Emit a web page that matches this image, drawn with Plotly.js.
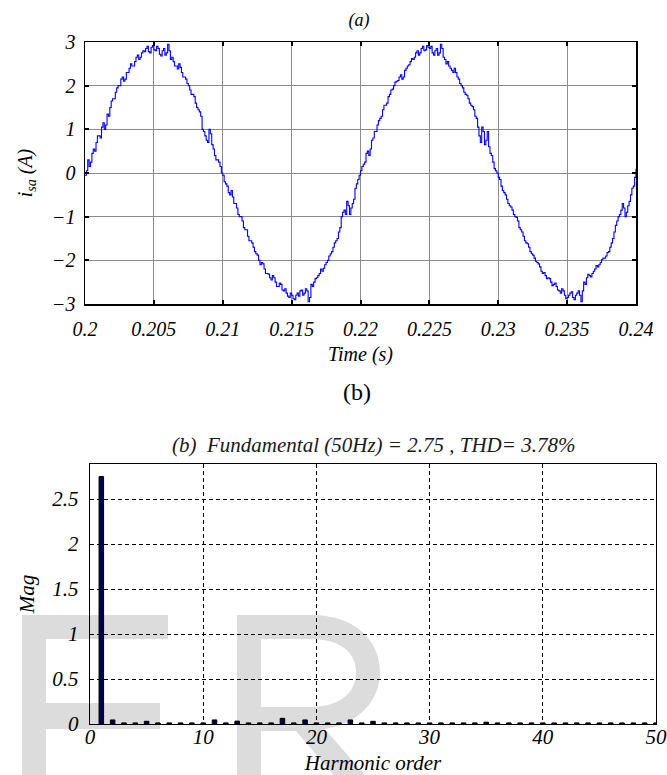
<!DOCTYPE html>
<html>
<head>
<meta charset="utf-8">
<script src="https://cdn.plot.ly/plotly-3.0.1.min.js"></script>
<style>
  html, body { margin: 0; padding: 0; background: #ffffff; }
  #chart { width: 667px; height: 775px; }
</style>
</head>
<body>
<div id="chart"></div>
<script>
// ---------- data ----------
const tStart = 0.2;          // s, first sample
const tStep = 0.0001;        // s, sample spacing
const isa = [
  -0.05, 0.05, 0.30, 0.15, 0.25, 0.45, 0.55, 0.50, 0.70, 0.85,
   0.85, 0.80, 1.05, 1.15, 1.00, 1.10, 1.35, 1.30, 1.50, 1.65,
   1.70, 1.70, 1.85, 1.95, 2.00, 2.00, 2.15, 2.20, 2.10, 2.15,
   2.30, 2.30, 2.40, 2.50, 2.45, 2.45, 2.55, 2.65, 2.70, 2.60,
   2.65, 2.75, 2.80, 2.78, 2.85, 2.90, 2.78, 2.75, 2.88, 2.92,
   2.82, 2.80, 2.90, 2.85, 2.72, 2.68, 2.80, 2.85, 2.70, 2.75,
   2.95, 2.80, 2.60, 2.65, 2.55, 2.45, 2.45, 2.38, 2.50, 2.42,
   2.30, 2.20, 2.20, 2.15, 2.05, 2.00, 1.90, 1.80, 1.80, 1.75,
   1.60, 1.50, 1.45, 1.40, 1.30, 1.00, 0.95, 0.85, 0.75, 0.70,
   1.00, 0.90, 0.65, 0.55, 0.40, 0.30, 0.30, 0.25, 0.15, 0.00,
  -0.05,-0.20,-0.25,-0.30,-0.45,-0.50,-0.40,-0.55,-0.70,-0.70,
  -0.80,-0.95,-1.00,-1.00,-1.10,-1.25,-1.30,-1.30,-1.45,-1.55,
  -1.55,-1.60,-1.70,-1.80,-1.85,-1.88,-2.00,-2.10,-2.05,-2.08,
  -2.20,-2.30,-2.30,-2.32,-2.40,-2.45,-2.35,-2.40,-2.50,-2.60,
  -2.60,-2.52,-2.55,-2.68,-2.70,-2.65,-2.75,-2.82,-2.85,-2.75,
  -2.80,-2.88,-2.90,-2.80,-2.75,-2.82,-2.70,-2.68,-2.80,-2.75,
  -2.65,-2.70,-2.95,-2.85,-2.55,-2.60,-2.50,-2.42,-2.40,-2.35,
  -2.30,-2.20,-2.25,-2.18,-2.10,-2.05,-2.00,-1.90,-1.85,-1.80,
  -1.70,-1.60,-1.55,-1.50,-1.35,-1.25,-1.00,-0.90,-0.85,-0.95,
  -0.65,-0.75,-0.95,-0.80,-0.70,-0.60,-0.35,-0.25,-0.15,-0.05,
   0.05, 0.15, 0.20, 0.25, 0.45, 0.50, 0.40, 0.55, 0.75, 0.80,
   0.95, 0.95, 1.10, 1.20, 1.25, 1.30, 1.45, 1.55, 1.55, 1.60,
   1.75, 1.80, 1.90, 1.92, 2.00, 2.08, 2.10, 2.12, 2.20, 2.25,
   2.15, 2.20, 2.35, 2.40, 2.45, 2.48, 2.55, 2.62, 2.60, 2.65,
   2.75, 2.80, 2.70, 2.75, 2.85, 2.90, 2.80, 2.82, 2.92, 2.88,
   2.85, 2.90, 2.75, 2.70, 2.80, 2.85, 2.70, 2.75, 2.95, 2.85,
   2.65, 2.60, 2.50, 2.55, 2.45, 2.40, 2.35, 2.30, 2.40, 2.30,
   2.20, 2.15, 2.05, 2.00, 1.95, 1.85, 1.80, 1.78, 1.70, 1.60,
   1.55, 1.52, 1.45, 1.30, 1.25, 1.05, 0.85, 0.70, 1.05, 0.95,
   0.65, 0.75, 0.95, 0.60, 0.45, 0.40, 0.25, 0.10, 0.05, 0.00,
  -0.10,-0.15,-0.30,-0.40,-0.45,-0.50,-0.60,-0.70,-0.75,-0.78,
  -0.85,-0.95,-1.00,-1.02,-1.10,-1.25,-1.30,-1.35,-1.45,-1.55,
  -1.60,-1.62,-1.70,-1.80,-1.85,-1.88,-1.95,-2.02,-2.05,-2.08,
  -2.15,-2.25,-2.30,-2.28,-2.35,-2.42,-2.40,-2.42,-2.50,-2.58,
  -2.55,-2.52,-2.60,-2.68,-2.70,-2.75,-2.65,-2.70,-2.80,-2.88,
  -2.85,-2.80,-2.75,-2.72,-2.85,-2.90,-2.80,-2.75,-2.70,-2.80,
  -2.95,-2.70,-2.50,-2.55,-2.40,-2.32,-2.35,-2.38,-2.30,-2.25,
  -2.20,-2.12,-2.15,-2.10,-2.05,-1.98,-1.95,-1.95,-1.90,-1.82,
  -1.80,-1.70,-1.60,-1.50,-1.35,-1.20,-1.10,-1.00,-0.95,-0.85,
  -0.70,-0.80,-1.00,-0.90,-0.75,-0.65,-0.50,-0.35,-0.30,-0.10,
   0.10
];
const timeTickVals = [0.2, 0.205, 0.21, 0.215, 0.22, 0.225, 0.23, 0.235, 0.24];
const timeTickText = ['0.2', '0.205', '0.21', '0.215', '0.22', '0.225', '0.23', '0.235', '0.24'];
const isaTickVals = [-3, -2, -1, 0, 1, 2, 3];

const harmonicOrder = [
   1,  2,  3,  4,  5,  6,  7,  8,  9, 10,
  11, 12, 13, 14, 15, 16, 17, 18, 19, 20,
  21, 22, 23, 24, 25, 26, 27, 28, 29, 30,
  31, 32, 33, 34, 35, 36, 37, 38, 39, 40,
  41, 42, 43, 44, 45, 46, 47, 48, 49, 50
];
const harmonicMag = [
  2.75, 0.045, 0.012, 0.012, 0.030, 0.012, 0.012, 0.012, 0.012, 0.012,
  0.045, 0.012, 0.032, 0.012, 0.012, 0.012, 0.063, 0.012, 0.045, 0.012,
  0.012, 0.012, 0.045, 0.012, 0.030, 0.012, 0.012, 0.012, 0.012, 0.012,
  0.012, 0.012, 0.012, 0.012, 0.020, 0.012, 0.012, 0.012, 0.012, 0.012,
  0.012, 0.012, 0.012, 0.012, 0.012, 0.012, 0.012, 0.012, 0.012, 0.012
];
const magTickVals = [0, 0.5, 1, 1.5, 2, 2.5];
const magTickText = ['0', '0.5', '1', '1.5', '2', '2.5'];
const harmTickVals = [0, 10, 20, 30, 40, 50];

// ---------- helpers ----------
const W = 667, H = 775;
const time = isa.map((_, i) => +(tStart + i * tStep).toFixed(4));
function pxPath(cmds) {
  return cmds.map(c => {
    if (c[0] === 'Z') return 'Z';
    const pts = [];
    for (let i = 1; i < c.length; i += 2) {
      pts.push((c[i] / W).toFixed(5) + ',' + (1 - c[i + 1] / H).toFixed(5));
    }
    return c[0] + pts.join(' ');
  }).join(' ');
}
const serif = '"Liberation Serif", "Times New Roman", serif';
const italicFont = (size, color) => ({ family: serif, size: size, style: 'italic', color: color || '#000000' });

// ---------- traces ----------
const traces = [
  {
    type: 'scatter', mode: 'lines', x: time, y: isa,
    line: { color: '#0000ff', width: 1.1, shape: 'hv' },
    xaxis: 'x', yaxis: 'y', hoverinfo: 'x+y', showlegend: false
  },
  {
    type: 'bar', x: harmonicOrder, y: harmonicMag, width: 0.4,
    marker: { color: '#000050', line: { color: '#000000', width: 1 } },
    xaxis: 'x2', yaxis: 'y2', showlegend: false
  }
];

// ---------- watermark shapes (pixel outlines converted to paper units) ----------
const letterF = pxPath([
  ['M', 22, 615], ['L', 168, 615], ['L', 168, 639], ['L', 46, 639], ['L', 46, 703],
  ['L', 160, 703], ['L', 160, 729], ['L', 46, 729], ['L', 46, 795], ['L', 22, 795], ['Z']
]);
const letterR = pxPath([
  ['M', 237, 615], ['L', 312, 615], ['C', 354, 615, 380, 640, 380, 672],
  ['C', 380, 702, 357, 724, 325, 729], ['L', 382, 795], ['L', 351, 795], ['L', 296, 731],
  ['L', 261, 731], ['L', 261, 795], ['L', 237, 795], ['Z'],
  ['M', 261, 639], ['L', 310, 639], ['C', 340, 639, 356, 652, 356, 672],
  ['C', 356, 693, 340, 707, 310, 707], ['L', 261, 707], ['Z']
]);

const layout = {
  width: W, height: H,
  margin: { l: 0, r: 0, t: 0, b: 0 },
  paper_bgcolor: '#ffffff', plot_bgcolor: 'rgba(0,0,0,0)',
  showlegend: false,
  title: {
    text: '(a)', x: 359 / W, xanchor: 'center', y: 1 - 20 / H, yanchor: 'middle',
    font: italicFont(18)
  },
  xaxis: {
    domain: [85 / W, 636 / W], anchor: 'y', range: [0.2, 0.24],
    tickmode: 'array', tickvals: timeTickVals, ticktext: timeTickText,
    showgrid: true, gridcolor: '#8c8c8c', gridwidth: 1, zeroline: false,
    showline: true, linecolor: '#000000', linewidth: 1.5, mirror: 'ticks',
    ticks: 'inside', ticklen: 4, tickwidth: 2, tickcolor: '#000000',
    ticklabelstandoff: 6, ticklabeloverflow: 'allow',
    tickfont: italicFont(20),
    title: { text: 'Time (s)', standoff: 8, font: italicFont(20) },
    fixedrange: true
  },
  yaxis: {
    domain: [1 - 304 / H, 1 - 42 / H], anchor: 'x', range: [-3, 3],
    tickmode: 'array', tickvals: isaTickVals,
    showgrid: true, gridcolor: '#8c8c8c', gridwidth: 1, zeroline: false,
    showline: true, linecolor: '#000000', linewidth: 1.5, mirror: 'ticks',
    ticks: 'inside', ticklen: 4, tickwidth: 2, tickcolor: '#000000',
    ticklabelstandoff: 4, ticklabeloverflow: 'allow',
    tickfont: italicFont(20),
    title: { text: 'i<sub>sa</sub> (A)', standoff: 14, font: italicFont(20) },
    fixedrange: true
  },
  xaxis2: {
    domain: [90 / W, 656 / W], anchor: 'y2', range: [0, 50],
    tickmode: 'array', tickvals: harmTickVals,
    showgrid: true, gridcolor: '#000000', gridwidth: 1, griddash: '4px,3px', zeroline: false,
    showline: true, linecolor: '#000000', linewidth: 1.2, mirror: true, ticks: '',
    ticklabelstandoff: -6, ticklabeloverflow: 'allow',
    tickfont: italicFont(21),
    title: { text: 'Harmonic order', standoff: 6, font: italicFont(21) },
    fixedrange: true
  },
  yaxis2: {
    domain: [1 - 724 / H, 1 - 464 / H], anchor: 'x2', range: [0, 2.89],
    tickmode: 'array', tickvals: magTickVals, ticktext: magTickText,
    showgrid: true, gridcolor: '#000000', gridwidth: 1, griddash: '4px,3px', zeroline: false,
    showline: true, linecolor: '#000000', linewidth: 1.2, mirror: true, ticks: '',
    ticklabelstandoff: 6, ticklabeloverflow: 'allow',
    tickfont: italicFont(21),
    title: { text: 'Mag', standoff: 12, font: italicFont(21) },
    fixedrange: true
  },
  annotations: [
    {
      text: '(b)', xref: 'paper', yref: 'paper', x: 357 / W, y: 1 - 392 / H,
      xanchor: 'center', yanchor: 'middle', showarrow: false,
      font: { family: serif, size: 24, color: '#000000' }
    },
    {
      text: '(b)  Fundamental (50Hz) = 2.75 , THD= 3.78%', xref: 'paper', yref: 'paper',
      x: 373 / W, y: 1 - 445 / H, xanchor: 'center', yanchor: 'middle', showarrow: false,
      font: italicFont(21, '#1a1a1a')
    }
  ],
  shapes: [
    { type: 'path', xref: 'paper', yref: 'paper', path: letterF, fillcolor: '#dcdcdc', line: { width: 0 }, layer: 'below' },
    { type: 'path', xref: 'paper', yref: 'paper', path: letterR, fillcolor: '#dcdcdc', fillrule: 'evenodd', line: { width: 0 }, layer: 'below' }
  ]
};

Plotly.newPlot('chart', traces, layout, { displayModeBar: false, staticPlot: true });
</script>
</body>
</html>
